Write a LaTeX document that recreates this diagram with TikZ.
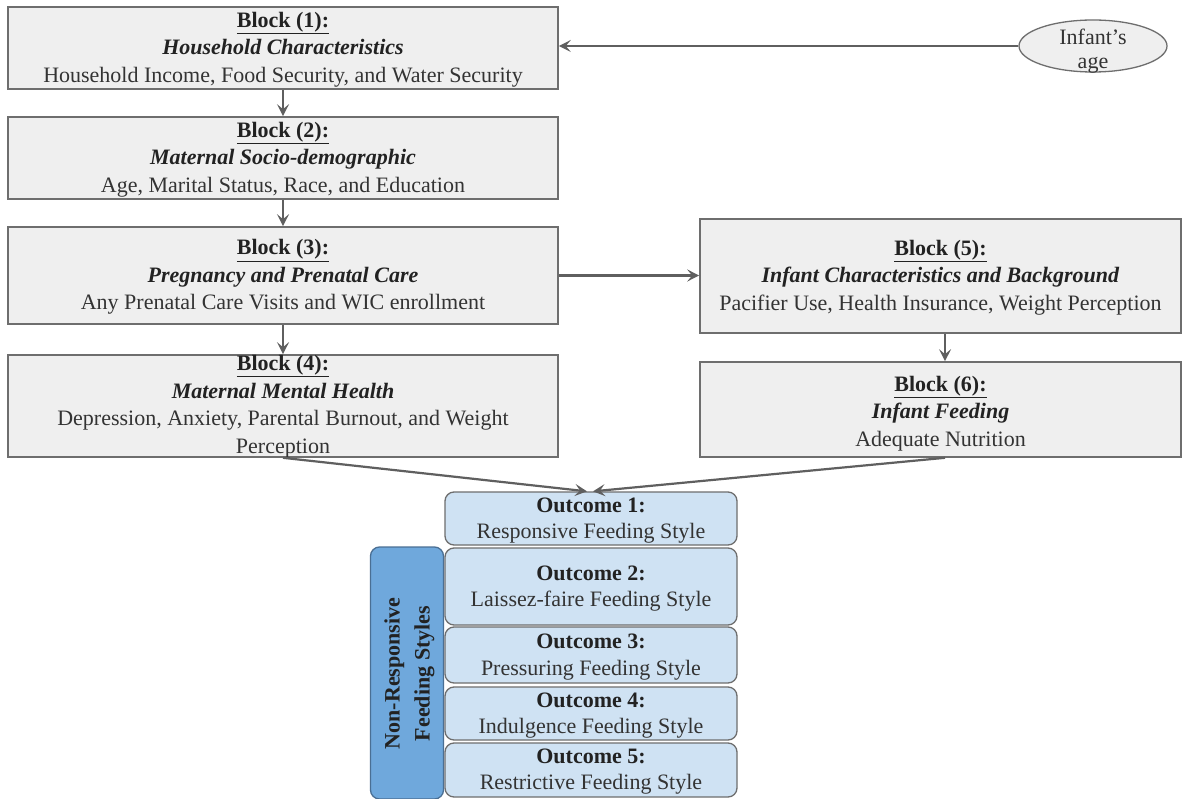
\documentclass[tikz,border=0pt]{standalone}
\usepackage{fontspec}
\setmainfont{Liberation Serif}
\usetikzlibrary{arrows.meta,shapes.geometric}
\definecolor{blkfill}{HTML}{EFEFEF}
\definecolor{blkline}{HTML}{6E6E6E}
\definecolor{arrcol}{HTML}{5F5F5F}
\definecolor{outfill}{HTML}{CFE2F3}
\definecolor{nrfill}{HTML}{6FA8DC}
\definecolor{nrline}{HTML}{4A6F94}
\definecolor{txtcol}{HTML}{222222}
\definecolor{regcol}{HTML}{333333}
\begin{document}
\begin{tikzpicture}[x=1pt,y=-1pt,
  blk/.style={draw=blkline,fill=blkfill,line width=1.6pt,rectangle,inner sep=0pt},
  outbox/.style={draw=blkline,fill=outfill,line width=1.3pt,rectangle,rounded corners=9pt,inner sep=0pt,minimum width=292pt},
  txt/.style={align=center,inner sep=0pt,text=txtcol,font=\fontsize{22}{27.5}\selectfont},
  otxt/.style={align=center,inner sep=0pt,text=txtcol,font=\fontsize{22}{26.5}\selectfont},
  arr/.style={draw=arrcol,line width=2.2pt,-{Stealth[length=12pt,width=12pt,inset=5pt]}}
]
\useasboundingbox (0,0) rectangle (1183,799);
\fill[white] (0,0) rectangle (1183,799);

% blocks
\node[blk,minimum width=550pt,minimum height=82pt] (b1) at (283,48) {};
\node[txt] (t1) at (283,49.5) {\underline{\textbf{Block (1):}}\\ \textbf{\textit{Household Characteristics}}\\ \textcolor{regcol}{Household Income, Food Security, and Water Security}};

\node[blk,minimum width=550pt,minimum height=82pt] (b2) at (283,158) {};
\node[txt] (t2) at (283,159.5) {\underline{\textbf{Block (2):}}\\ \textbf{\textit{Maternal Socio-demographic}}\\ \textcolor{regcol}{Age, Marital Status, Race, and Education}};

\node[blk,minimum width=550pt,minimum height=97pt] (b3) at (283,275.5) {};
\node[txt] (t3) at (283,277) {\underline{\textbf{Block (3):}}\\ \textbf{\textit{Pregnancy and Prenatal Care}}\\ \textcolor{regcol}{Any Prenatal Care Visits and WIC enrollment}};

\node[blk,minimum width=550pt,minimum height=102pt] (b4) at (283,406) {};
\node[txt] (t4) at (283,406.5) {\underline{\textbf{Block (4):}}\\ \textbf{\textit{Maternal Mental Health}}\\ \textcolor{regcol}{Depression, Anxiety, Parental Burnout, and Weight}\\ \textcolor{regcol}{Perception}};

\node[blk,minimum width=481pt,minimum height=114pt] (b5) at (940.5,276) {};
\node[txt] (t5) at (940.5,277.5) {\underline{\textbf{Block (5):}}\\ \textbf{\textit{Infant Characteristics and Background}}\\ \textcolor{regcol}{Pacifier Use, Health Insurance, Weight Perception}};

\node[blk,minimum width=481pt,minimum height=95pt] (b6) at (940.5,409.5) {};
\node[txt] (t6) at (940.5,413.5) {\underline{\textbf{Block (6):}}\\ \textbf{\textit{Infant Feeding}}\\ \textcolor{regcol}{Adequate Nutrition}};

% ellipse
\node[ellipse,draw=blkline,fill=blkfill,line width=1.3pt,minimum width=148pt,minimum height=52pt,inner sep=0pt] (e) at (1093,46) {};
\node[align=center,inner sep=0pt,text=regcol,font=\fontsize{22}{24}\selectfont] (te) at (1093,51) {Infant’s\\ age};

% outcomes
\node[outbox,minimum height=53pt] (o1) at (591,518.5) {};
\node[otxt] at (591,520.5) {\textbf{Outcome 1:}\\ \textcolor{regcol}{Responsive Feeding Style}};
\node[outbox,minimum height=77pt] (o2) at (591,586.5) {};
\node[otxt] at (591,588.5) {\textbf{Outcome 2:}\\ \textcolor{regcol}{Laissez-faire Feeding Style}};
\node[outbox,minimum height=56pt] (o3) at (591,655) {};
\node[otxt] at (591,657) {\textbf{Outcome 3:}\\ \textcolor{regcol}{Pressuring Feeding Style}};
\node[outbox,minimum height=53pt] (o4) at (591,713.5) {};
\node[otxt] at (591,715.5) {\textbf{Outcome 4:}\\ \textcolor{regcol}{Indulgence Feeding Style}};
\node[outbox,minimum height=54pt] (o5) at (591,770) {};
\node[otxt] at (591,771.5) {\textbf{Outcome 5:}\\ \textcolor{regcol}{Restrictive Feeding Style}};

% non-responsive
\node[draw=nrline,fill=nrfill,line width=1.3pt,rounded corners=9pt,minimum width=73pt,minimum height=252pt,inner sep=0pt] (nr) at (407,673) {};
\node[rotate=90,align=center,inner sep=0pt,text=txtcol,font=\fontsize{22}{30}\selectfont\bfseries] (tnr) at (409.5,673.5) {Non-Responsive\\ Feeding Styles};

% connectors
\draw[arr] (e.west) -- (e.west -| b1.east);
\draw[arr] (b1.south) -- (b2.north);
\draw[arr] (b2.south) -- (b3.north);
\draw[arr] (b3.south) -- (b4.north);
\draw[arr] (b3.east) -- (b3.east -| b5.west);
\draw[arr] ([xshift=4.5pt]b5.south) -- ([xshift=4.5pt]b6.north);
\draw[arr] (b4.south) -- ([xshift=-4pt]o1.north);
\draw[arr] ([xshift=4.5pt]b6.south) -- ([xshift=2pt]o1.north);
\end{tikzpicture}
\end{document}
